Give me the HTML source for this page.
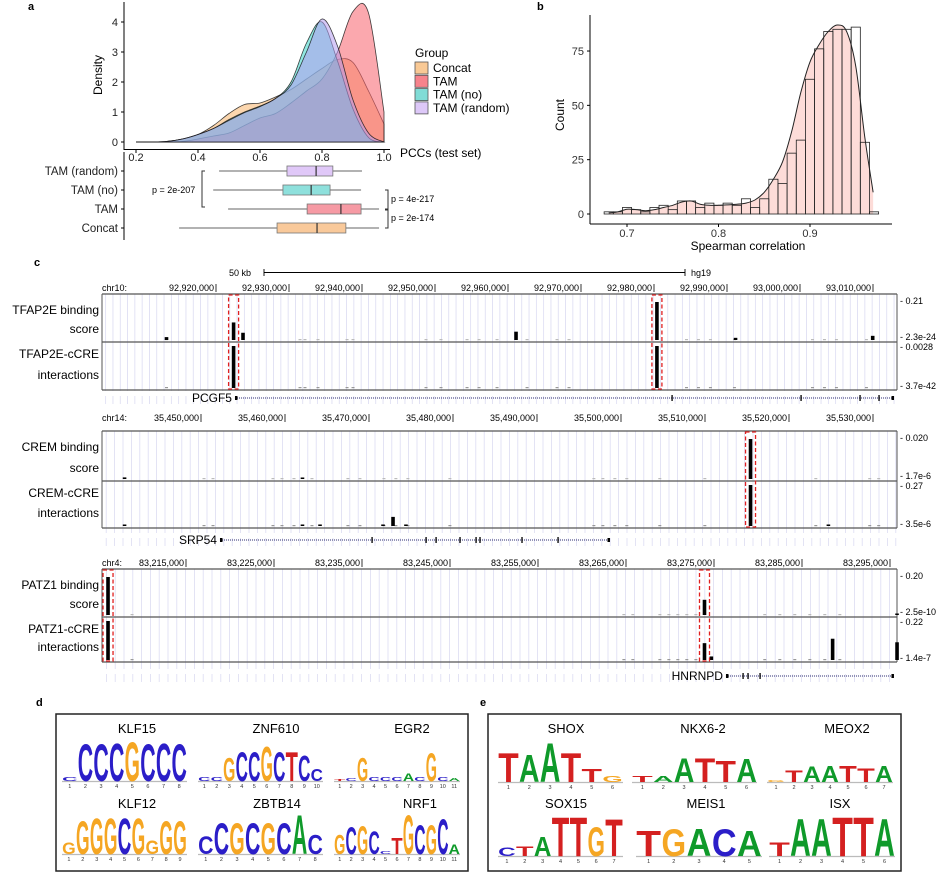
<!DOCTYPE html>
<html><head><meta charset="utf-8">
<style>
html,body{margin:0;padding:0;background:#fff;}
svg{display:block;font-family:"Liberation Sans",sans-serif;}
.nar{font-family:"Liberation Sans Narrow","Liberation Sans",sans-serif;}
</style></head>
<body>
<svg id="fig" xmlns="http://www.w3.org/2000/svg" width="939" height="872" viewBox="0 0 939 872">
<rect x="0" y="0" width="939" height="872" fill="#fff"/>
<text x="28" y="10" font-size="11" font-weight="bold">a</text>
<text x="537" y="10" font-size="11" font-weight="bold">b</text>
<text x="34" y="266" font-size="11" font-weight="bold">c</text>
<text x="36" y="706" font-size="11" font-weight="bold">d</text>
<text x="480" y="706" font-size="11" font-weight="bold">e</text>
</svg>
<script>
// ---------- DATA: panel a ----------
const densX = [0.2,0.25,0.3,0.35,0.4,0.45,0.5,0.55,0.6,0.65,0.7,0.75,0.8,0.85,0.9,0.95,1.0];
const densConcat = [0,0,0.02,0.1,0.25,0.55,0.95,1.25,1.3,1.5,1.75,2.1,2.45,2.75,2.65,1.7,0.6];
const densTAM = [0,0,0,0.02,0.1,0.2,0.3,0.55,0.8,0.95,1.3,1.7,2.1,3.0,4.35,4.3,1.0];
const densTAMno = [0,0,0.02,0.1,0.25,0.45,0.75,1.0,1.2,1.45,2.0,3.3,4.0,2.7,1.1,0.15,0];
const densTAMrandom = [0,0,0.02,0.1,0.25,0.45,0.72,0.98,1.18,1.45,1.9,3.0,4.1,3.2,1.4,0.3,0];
const groupNames = ['Concat','TAM','TAM (no)','TAM (random)'];
const densTicksX = [0.2,0.4,0.6,0.8,1.0];
const densTicksY = [0,1,2,3,4];
const boxNames = ['TAM (random)','TAM (no)','TAM','Concat'];
const boxStats = [[0.468,0.687,0.781,0.835,0.929],[0.449,0.674,0.765,0.826,0.926],[0.497,0.752,0.861,0.926,0.984],[0.339,0.655,0.784,0.877,0.984]];
const pLabels = ['p = 2e-207','p = 4e-217','p = 2e-174'];
// ---------- DATA: panel b ----------
const histStart = 0.675, histBin = 0.01;
const histCounts = [1,1,3,2,1,3,4,2,6,6,3,5,4,5,4,7,3,7,16,14,28,34,62,76,84,85,85,86,33,1];
const kdeX = [0.68,0.69,0.70,0.71,0.72,0.73,0.74,0.75,0.76,0.77,0.78,0.79,0.80,0.81,0.82,0.83,0.84,0.85,0.86,0.87,0.88,0.89,0.90,0.91,0.92,0.93,0.94,0.95,0.96,0.969];
const kdeY = [0.5,1,2.2,2,1.5,2,3,4,5.5,6,4.5,4,4,4.2,4.5,5,6.5,10,16,24,38,56,70,78,84,87,84,68,35,10];
const histTicksX = [0.7,0.8,0.9];
const histTicksY = [0,25,50,75];
// ---------- DATA: panel c ----------
const t1Ticks = [92920000,92930000,92940000,92950000,92960000,92970000,92980000,92990000,93000000,93010000];
const t1BindPos = [92913220,92922410,92923700,92961100,92980400,92991170,93009960];
const t1BindVal = [0.016,0.097,0.04,0.046,0.21,0.012,0.023];
const t1IntPos = [92922410,92980400];
const t1IntVal = [0.0028,0.0028];
const t1BgPos = [92913220,92931510,92932190,92933970,92937950,92938770,92948770,92950820,92954390,92956030,92958500,92962610,92966720,92968360,92984450,92986090,92987730,92991020,93001710,93003350,93004990,93009100];
const t1Highlight = [92922410,92980400];
const t1Exons = [92982470,93000140,93008220,93010820];
const t2Ticks = [35450000,35460000,35470000,35480000,35490000,35500000,35510000,35520000,35530000];
const t2BindPos = [35440900,35462080,35515420];
const t2BindVal = [0.0008,0.0006,0.020];
const t2IntPos = [35440900,35462080,35464170,35471670,35472860,35474400,35515420,35524690];
const t2IntVal = [0.006,0.006,0.01,0.01,0.06,0.01,0.27,0.01];
const t2BgPos = [35450360,35451430,35458570,35459640,35461070,35463210,35467490,35468920,35471780,35473200,35474630,35479630,35496770,35497840,35499270,35500690,35504620,35509980,35523190,35529610,35530680];
const t2Highlight = [35515420];
const t2Exons = [35470360,35476790,35477980,35480830,35482740,35483210,35488210,35492500];
const t3Ticks = [83215000,83225000,83235000,83245000,83255000,83265000,83275000,83285000,83295000];
const t3BindPos = [83206140,83273920,83295800];
const t3BindVal = [0.20,0.08,0.006];
const t3IntPos = [83206140,83273920,83274700,83288480,83295800];
const t3IntVal = [0.22,0.095,0.02,0.12,0.1];
const t3BgPos = [83208870,83264760,83265780,83268850,83269870,83270890,83271910,83272940,83280770,83282480,83284180,83285890,83287590,83289300];
const t3Highlight = [83206140,83273920];
const t3Exons = [83278300,83278860,83280230];
// ---------- DATA: motifs ----------
const motifNames = ['KLF15','ZNF610','EGR2','KLF12','ZBTB14','NRF1','SHOX','NKX6-2','MEOX2','SOX15','MEIS1','ISX'];
const motifLetters = ['CCCCGCCC','CCGCCGCTCC','TCGCCCACGCA','GGGGCGGGG','CCGCGCAC','GCGCCTGCGCA','TAATTG','TAATTA','GTAATTA','CTATTGT','TGACA','TAATTA'];
const motifHeights = [[.1,.95,.95,.97,1,.95,.97,.95],[.1,.1,.6,.75,.75,.88,.75,.75,.65,.32],[.05,.08,.6,.1,.1,.1,.2,.1,.72,.1,.08],[.3,.85,.92,.92,.92,.92,.35,.85,.85],[.45,.8,.8,.8,.8,.8,1,.5],[.5,.7,.72,.58,.08,.42,1,.75,.75,.9,.25],[.75,.7,1,.75,.33,.15],[.15,.15,.62,.62,.55,.6],[.05,.3,.4,.42,.42,.35,.42],[.22,.25,.5,1,1,.75,.95],[.65,.7,.7,.7,.65],[.35,.95,.95,1,1,.95]];

// ---------- helpers ----------
const NS='http://www.w3.org/2000/svg';
const svg=document.getElementById('fig');
function mk(tag,attrs,parent){const e=document.createElementNS(NS,tag);for(const k in attrs)e.setAttribute(k,attrs[k]);(parent||svg).appendChild(e);return e;}
function tx(x,y,s,attrs,parent){const e=mk('text',Object.assign({x:x,y:y},attrs||{}),parent);e.textContent=s;return e;}
function smoothPath(pts){let d='M'+pts[0][0]+','+pts[0][1];for(let i=0;i<pts.length-1;i++){const p0=pts[i-1]||pts[i],p1=pts[i],p2=pts[i+1],p3=pts[i+2]||p2;const c1x=p1[0]+(p2[0]-p0[0])/6,c1y=p1[1]+(p2[1]-p0[1])/6,c2x=p2[0]-(p3[0]-p1[0])/6,c2y=p2[1]-(p3[1]-p1[1])/6;d+=' C'+c1x.toFixed(2)+','+c1y.toFixed(2)+' '+c2x.toFixed(2)+','+c2y.toFixed(2)+' '+p2[0].toFixed(2)+','+p2[1].toFixed(2);}return d;}
function fmt(n){return n.toString().replace(/\B(?=(\d{3})+(?!\d))/g,',');}

// ---------- panel a: density ----------
const ax=v=>136+(v-0.2)*310, ay=v=>142-v*30;
let el;
el=mk('line',{x1:124,y1:2,x2:124,y2:150,stroke:'#000','stroke-width':1});


el=mk('line',{x1:124,y1:149.5,x2:390,y2:149.5,stroke:'#000','stroke-width':1});


densTicksY.forEach(v=>{
  el=tx(118,ay(v)+4,String(v),{'font-size':11,'text-anchor':'end',fill:'#222'});
  
  
  mk('line',{x1:121,y1:ay(v),x2:124,y2:ay(v),stroke:'#000'});
});
densTicksX.forEach(v=>{
  el=tx(ax(v),161,v.toFixed(1),{'font-size':11,'text-anchor':'middle',fill:'#222'});
  
  
  mk('line',{x1:ax(v),y1:150,x2:ax(v),y2:153,stroke:'#000'});
});
el=tx(0,0,'Density',{'font-size':12,'text-anchor':'middle',transform:'translate(102,75) rotate(-90)'});


el=tx(400,157,'PCCs (test set)',{'font-size':12});


const densSeries=[densConcat,densTAM,densTAMno,densTAMrandom];
const densFill=['#f8b46b','#f8606c','#37d3c8','#b59cf0'];
const densNames=['density-concat','density-tam','density-tam-no','density-tam-random'];
densSeries.forEach((s,i)=>{
  const pts=densX.map((x,j)=>[ax(x),ay(s[j])]);
  const d=smoothPath(pts)+' L'+ax(1.0)+','+ay(0)+' L'+ax(0.2)+','+ay(0)+' Z';
  el=mk('path',{d:d,fill:densFill[i],'fill-opacity':0.55,stroke:'#111','stroke-width':0.8,'stroke-opacity':0.8});
  
  
});
el=tx(415,57,'Group',{'font-size':12});


const legFill=['#f9c995','#f7838c','#80dcd6','#ddc8f8'];
groupNames.forEach((g,i)=>{
  const y=62+i*13.3;
  el=mk('rect',{x:415,y:y,width:13,height:12,fill:legFill[i],stroke:'#555','stroke-width':0.8});
  
  
  el=tx(433,y+10,g,{'font-size':12});
  
  
});
el=mk('line',{x1:124,y1:152,x2:124,y2:240,stroke:'#000'});


const boxFill=['#e0c8f8','#8ee0dc','#f69aa4','#f9c99a'];
boxNames.forEach((n,i)=>{
  const y=171+i*19, s=boxStats[i];
  el=tx(118,y+4,n,{'font-size':11.5,'text-anchor':'end',fill:'#222'});
  
  
  mk('line',{x1:121,y1:y,x2:124,y2:y,stroke:'#000'});
  el=mk('line',{x1:ax(s[0]),y1:y,x2:ax(s[4]),y2:y,stroke:'#666','stroke-width':1});
  
  
  el=mk('rect',{x:ax(s[1]),y:y-5,width:ax(s[3])-ax(s[1]),height:10,fill:boxFill[i],stroke:'#777','stroke-width':0.8});
  
  
  el=mk('line',{x1:ax(s[2]),y1:y-5,x2:ax(s[2]),y2:y+5,stroke:'#333','stroke-width':1.2});
  
  
});
el=mk('path',{d:'M205,171 L202,171 L202,207 L205,207',fill:'none',stroke:'#333'});


el=tx(152,193,pLabels[0],{'font-size':9});


el=mk('path',{d:'M385,190 L388,190 L388,209 L385,209 M385,210 L388,210 L388,228 L385,228',fill:'none',stroke:'#333'});


el=tx(391,202,pLabels[1],{'font-size':9});


el=tx(391,221,pLabels[2],{'font-size':9});



// ---------- panel b ----------
const bx=v=>627+(v-0.7)*915, by=v=>214-v*2.173;
el=mk('line',{x1:590,y1:15,x2:590,y2:224,stroke:'#000'});


el=mk('line',{x1:590,y1:224,x2:892,y2:224,stroke:'#000'});


const kpts=kdeX.map((x,i)=>[bx(x),by(kdeY[i])]);
el=mk('path',{d:smoothPath(kpts)+' L'+bx(kdeX[kdeX.length-1])+','+by(0)+' L'+bx(kdeX[0])+','+by(0)+' Z',fill:'#fddcd8',stroke:'none'});


histCounts.forEach((c,i)=>{
  const x0=bx(histStart+i*histBin), x1=bx(histStart+(i+1)*histBin);
  el=mk('rect',{x:x0,y:by(c),width:x1-x0,height:by(0)-by(c),fill:'none',stroke:'#222','stroke-width':0.8});
  
  
});
el=mk('path',{d:smoothPath(kpts),fill:'none',stroke:'#222','stroke-width':1});


histTicksY.forEach(v=>{
  el=tx(584,by(v)+4,String(v),{'font-size':11,'text-anchor':'end',fill:'#333'});
  
  
  mk('line',{x1:587,y1:by(v),x2:590,y2:by(v),stroke:'#000'});
});
histTicksX.forEach(v=>{
  el=tx(bx(v),237,v.toFixed(1),{'font-size':11,'text-anchor':'middle',fill:'#333'});
  
  
  mk('line',{x1:bx(v),y1:224,x2:bx(v),y2:227,stroke:'#000'});
});
el=tx(0,0,'Count',{'font-size':12,'text-anchor':'middle',transform:'translate(564,115) rotate(-90)'});


el=tx(748,250,'Spearman correlation',{'font-size':12,'text-anchor':'middle'});



// ---------- panel c ----------
function track(c){
  const X=p=>c.refPx+(p-c.refPos)/10000*c.px10k;
  const g=mk('g',{});
  
  
  const step=c.px10k/10;
  for(let x=102+step/2;x<897;x+=step){mk('line',{x1:x,y1:c.top,x2:x,y2:c.gy+6,stroke:'#dcdcf2','stroke-width':0.8},g);}
  mk('rect',{x:102,y:c.gy-7,width:795,height:5,fill:'#fff'},g);
  el=tx(102,c.cy,c.chr,{'font-size':9,class:'nar'},g);
  
  
  c.ticks.forEach(t=>{
    el=tx(X(t)-2,c.cy,fmt(t),{'font-size':9,'text-anchor':'end',class:'nar'},g);
    
    
    mk('line',{x1:X(t),y1:c.cy-7,x2:X(t),y2:c.cy+1,stroke:'#000','stroke-width':0.8},g);
  });
  mk('line',{x1:102,y1:c.top,x2:897,y2:c.top,stroke:'#555','stroke-width':1.2},g);
  mk('line',{x1:102,y1:c.mid,x2:897,y2:c.mid,stroke:'#555','stroke-width':1.2},g);
  mk('line',{x1:102,y1:c.bot,x2:897,y2:c.bot,stroke:'#555','stroke-width':1.2},g);
  mk('line',{x1:102,y1:c.top,x2:102,y2:c.bot,stroke:'#555','stroke-width':1},g);
  mk('line',{x1:897,y1:c.top,x2:897,y2:c.bot,stroke:'#555','stroke-width':1},g);
  [[c.lab[0],c.top+10],[c.lab[1],c.mid-2],[c.lab[2],c.mid+8],[c.lab[3],c.bot-1]].forEach(l=>{
    el=tx(900,l[1],'- '+l[0],{'font-size':9,class:'nar'},g);
    
    
  });
  [[c.tf+' binding',c.top+20],['score',c.mid-9],[c.tf+'-cCRE',c.mid+16],['interactions',c.bot-11]].forEach(l=>{
    el=tx(99,l[1],l[0],{'font-size':12,'text-anchor':'end',class:'nar'},g);
    
    
  });
  c.bg.forEach(p=>{
    mk('rect',{x:X(p)-1.5,y:c.mid-3,width:3,height:1.2,fill:'#bbb'},g);
    mk('rect',{x:X(p)-1.5,y:c.bot-3,width:3,height:1.2,fill:'#999'},g);
  });
  const bTop=c.top+8,bBase=c.mid-2,iTop=c.mid+4,iBase=c.bot-2;
  c.bPos.forEach((p,i)=>{
    const h=Math.max(1.5,(c.bVal[i]/c.bMax)*(bBase-bTop));
    el=mk('rect',{x:X(p)-1.8,y:bBase-h,width:3.6,height:h,fill:'#000'},g);
    
    
  });
  c.iPos.forEach((p,i)=>{
    const h=Math.max(1.5,(c.iVal[i]/c.iMax)*(iBase-iTop));
    el=mk('rect',{x:X(p)-1.8,y:iBase-h,width:3.6,height:h,fill:'#000'},g);
    
    
  });
  c.hl.forEach(p=>{
    el=mk('rect',{x:X(p)-5,y:c.top+1,width:10,height:c.bot-c.top-2,fill:'none',stroke:'#e02020','stroke-width':1.3,'stroke-dasharray':'4,2.5'},g);
    
    
  });
  el=tx(X(c.gs)-3,c.gy+4,c.gene,{'font-size':12,'text-anchor':'end',class:'nar'},g);
  
  
  el=mk('line',{x1:X(c.gs),y1:c.gy,x2:X(c.ge),y2:c.gy,stroke:'#2a2a70','stroke-width':1,'stroke-dasharray':'1,1'},g);
  
  
  mk('rect',{x:X(c.gs),y:c.gy-2,width:2.5,height:4,fill:'#000'},g);
  mk('rect',{x:X(c.ge)-2.5,y:c.gy-2,width:2.5,height:4,fill:'#000'},g);
  c.ex.forEach(p=>{mk('rect',{x:X(p)-0.6,y:c.gy-3,width:1.3,height:6,fill:'#000'},g);});
}
el=tx(229,276,'50 kb',{'font-size':9,class:'nar'});


el=mk('path',{d:'M264,269 L264,276 M264,272.5 L685,272.5 M685,269 L685,276',stroke:'#000','stroke-width':0.9,fill:'none'});


el=tx(691,276,'hg19',{'font-size':9,class:'nar'});


track({name:'tfap2e-track',tf:'TFAP2E',chr:'chr10:',refPos:92920000,refPx:216,px10k:73,cy:291,top:294,mid:342,bot:390,gy:398,
  ticks:t1Ticks,bPos:t1BindPos,bVal:t1BindVal,bMax:0.21,iPos:t1IntPos,iVal:t1IntVal,iMax:0.0028,bg:t1BgPos,hl:t1Highlight,
  lab:['0.21','2.3e-24','0.0028','3.7e-42'],gene:'PCGF5',gs:92922600,ge:93012880,ex:t1Exons});
track({name:'crem-track',tf:'CREM',chr:'chr14:',refPos:35450000,refPx:201,px10k:84,cy:421,top:431,mid:481,bot:528,gy:540,
  ticks:t2Ticks,bPos:t2BindPos,bVal:t2BindVal,bMax:0.020,iPos:t2IntPos,iVal:t2IntVal,iMax:0.27,bg:t2BgPos,hl:t2Highlight,
  lab:['0.020','1.7e-6','0.27','3.5e-6'],gene:'SRP54',gs:35452260,ge:35498690,ex:t2Exons});
track({name:'patz1-track',tf:'PATZ1',chr:'chr4:',refPos:83215000,refPx:186,px10k:88,cy:566,top:569,mid:617,bot:662,gy:676,
  ticks:t3Ticks,bPos:t3BindPos,bVal:t3BindVal,bMax:0.20,iPos:t3IntPos,iVal:t3IntVal,iMax:0.22,bg:t3BgPos,hl:t3Highlight,
  lab:['0.20','2.5e-10','0.22','1.4e-7'],gene:'HNRNPD',gs:83276360,ge:83295450,ex:t3Exons});

// ---------- panels d, e ----------
el=mk('rect',{x:56,y:714,width:412,height:157,fill:'none',stroke:'#222','stroke-width':1.5});


el=mk('rect',{x:488,y:714,width:413,height:157,fill:'none',stroke:'#222','stroke-width':1.5});


const motifLayout=[[62,187,781,733],[198,323,781,733],[334,460,781,733],[62,187,854,808],[198,323,854,808],[334,460,854,808],
  [498,623,782,733],[632,757,782,733],[767,893,782,733],[498,623,856,808],[636,762,856,808],[769,895,856,808]];
const motifNameX=[137,276,412,137,277,420,566,703,847,566,706,840];
const letterColor={A:'#0f9a2a',C:'#2b1ec8',G:'#f5a623',T:'#d42020'};
const letterAdv={A:72,C:72,G:78,T:61};
motifNames.forEach((n,m)=>{
  const [x0,x1,base,ny]=motifLayout[m];
  const g=mk('g',{});
  
  
  el=tx(motifNameX[m],ny,n,{'font-size':13,'text-anchor':'middle'},g);
  
  
  const L=motifLetters[m], H=motifHeights[m], w=(x1-x0)/L.length;
  mk('line',{x1:x0,y1:base+0.5,x2:x1,y2:base+0.5,stroke:'#bbb','stroke-width':1.2},g);
  for(let i=0;i<L.length;i++){
    const ch=L[i], h=H[i]*40, cx=x0+w*(i+0.5);
    el=tx(0,0,ch,{'font-size':100,'font-weight':'bold','text-anchor':'middle',fill:letterColor[ch],
      transform:'translate('+cx.toFixed(2)+','+base+') scale('+(w*0.98/letterAdv[ch]).toFixed(4)+','+(h/72).toFixed(4)+')'},g);
    
    
    el=tx(cx,base+7,String(i+1),{'font-size':5.5,'text-anchor':'middle',fill:'#333'},g);
    
    
  }
});
</script>
</body></html>
